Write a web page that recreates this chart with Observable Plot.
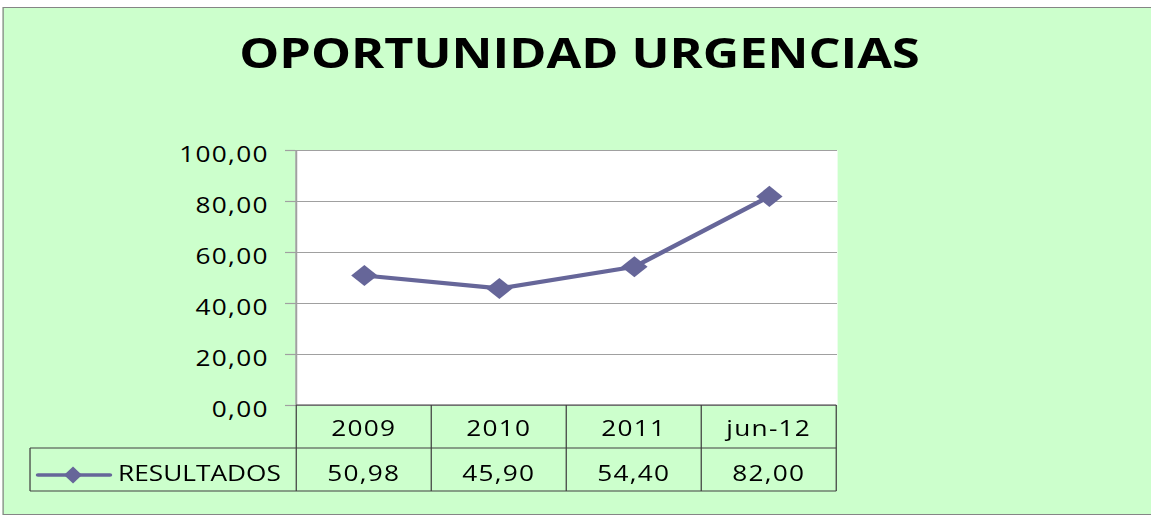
<!DOCTYPE html>
<html>
<head>
<meta charset="utf-8">
<script src="https://cdn.jsdelivr.net/npm/d3@7"></script>
<script src="https://cdn.jsdelivr.net/npm/@observablehq/plot@0.6"></script>
<style>
  html, body { margin: 0; padding: 0; background: #ffffff; }
  #outer { position: relative; width: 1151px; height: 518px; overflow: hidden; }
  #inner { position: absolute; left: 0; top: 0; width: 920.8px; height: 518px;
           transform: scaleX(1.25); transform-origin: 0 0; font-family: "Open Sans", sans-serif; }
  #box { position: absolute; left: 2.4px; top: 7px; width: 940px; height: 508px;
         background: #ccffcc; border: 1.5px solid #858585; box-sizing: border-box; }
  #chart { position: absolute; left: 0; top: 0; }
</style>
</head>
<body>
<div id="outer"><div id="inner"><div id="box"></div><div id="chart"></div></div></div>
<script>
// ---- data ----
const categories = ["2009", "2010", "2011", "jun-12"];
const values = [50.98, 45.90, 54.40, 82.00];
const seriesName = "RESULTADOS";
const yTicks = [0, 20, 40, 60, 80, 100];
const titleText = "OPORTUNIDAD URGENCIAS";

// ---- layout ----
const S = 1.25;            // horizontal stretch of the original picture
const W = 1151 / S;
const H = 518;
const lineColor = "#666699";
const gridColor = "#a0a0a0";
const tableColor = "#404040";
const fmt = v => v.toFixed(2).replace(".", ",");
const data = categories.map((c, i) => ({cat: c, value: values[i]}));

const chart = Plot.plot({
  width: W,
  height: H,
  marginTop: 150,
  marginBottom: 113,
  marginLeft: 236,
  marginRight: W - 669.6,
  style: {background: "transparent", fontFamily: "'Open Sans', sans-serif", fontSize: "21px",
          color: "#000", overflow: "visible", letterSpacing: "1px"},
  x: {type: "point", domain: categories, padding: 0.5, axis: null},
  y: {domain: [0, 100], label: null},
  marks: [
    Plot.frame({fill: "white", stroke: null}),
    Plot.gridY(yTicks, {stroke: gridColor, strokeOpacity: 1, strokeWidth: 1.2}),
    Plot.axisY(yTicks, {tickSize: 8, stroke: gridColor, strokeWidth: 1.2, fill: "none", label: null}),
    Plot.axisY(yTicks, {tickSize: 8, tickPadding: 13.6, stroke: "none", fill: "#000",
                        tickFormat: fmt, fontSize: 21, dy: 5, label: null}),
    Plot.line(data, {x: "cat", y: "value", stroke: lineColor, strokeWidth: 4.2}),
    Plot.dot(data, {x: "cat", y: "value", symbol: "diamond2", r: 9.5, fill: lineColor, stroke: null})
  ]
});
document.getElementById("chart").appendChild(chart);

// ---- extras drawn from the plot's own scales ----
const sx = chart.scale("x"), sy = chart.scale("y");
const cx = categories.map(c => sx.apply(c));
const step = cx[1] - cx[0];
const edges = [cx[0] - step / 2, ...cx.map(v => v + step / 2)];
const yBottom = sy.apply(0), yTop = sy.apply(100);
const rowH = 43;
const row1 = yBottom + rowH, row2 = yBottom + 2 * rowH;
const legendLeft = 24;
const svg = d3.select(chart);

// left axis line
svg.append("line").attr("x1", edges[0]).attr("x2", edges[0]).attr("y1", yTop).attr("y2", yBottom)
  .attr("stroke", gridColor).attr("stroke-width", 1.6);

// title
svg.append("text").text(titleText)
  .attr("x", 463.6).attr("y", 68).attr("text-anchor", "middle")
  .attr("font-family", "'Open Sans', sans-serif").attr("font-weight", 700)
  .attr("font-size", 40.3).style("letter-spacing", "0px").attr("fill", "#000");

// data table grid
const tg = svg.append("g").attr("stroke", tableColor).attr("stroke-width", 1).attr("fill", "none");
tg.append("line").attr("x1", edges[0]).attr("x2", edges[edges.length - 1]).attr("y1", yBottom).attr("y2", yBottom);
tg.append("line").attr("x1", legendLeft).attr("x2", edges[edges.length - 1]).attr("y1", row1).attr("y2", row1);
tg.append("line").attr("x1", legendLeft).attr("x2", edges[edges.length - 1]).attr("y1", row2).attr("y2", row2);
tg.append("line").attr("x1", legendLeft).attr("x2", legendLeft).attr("y1", row1).attr("y2", row2);
edges.forEach(e => tg.append("line").attr("x1", e).attr("x2", e).attr("y1", yBottom).attr("y2", row2));

// table texts
const tt = svg.append("g").attr("fill", "#000").attr("font-size", 21).attr("text-anchor", "middle");
categories.forEach((c, i) => {
  tt.append("text").text(c).attr("x", cx[i]).attr("y", yBottom + 31);
  tt.append("text").text(fmt(values[i])).attr("x", cx[i]).attr("y", row1 + 33.5);
});

// legend key in the table
const ly = row1 + 27;
svg.append("line").attr("x1", 30.4).attr("x2", 88).attr("y1", ly).attr("y2", ly)
  .attr("stroke", lineColor).attr("stroke-width", 3.6).attr("stroke-linecap", "round");
const lx = 58.4;
svg.append("path").attr("d", `M${lx},${ly - 8.5}L${lx + 7.2},${ly}L${lx},${ly + 8.5}L${lx - 7.2},${ly}Z`)
  .attr("fill", lineColor);
svg.append("text").text(seriesName).attr("x", 94.4).attr("y", row1 + 33.5)
  .attr("text-anchor", "start")
  .attr("font-size", 21).style("letter-spacing", "0px").attr("fill", "#000");
</script>
</body>
</html>
